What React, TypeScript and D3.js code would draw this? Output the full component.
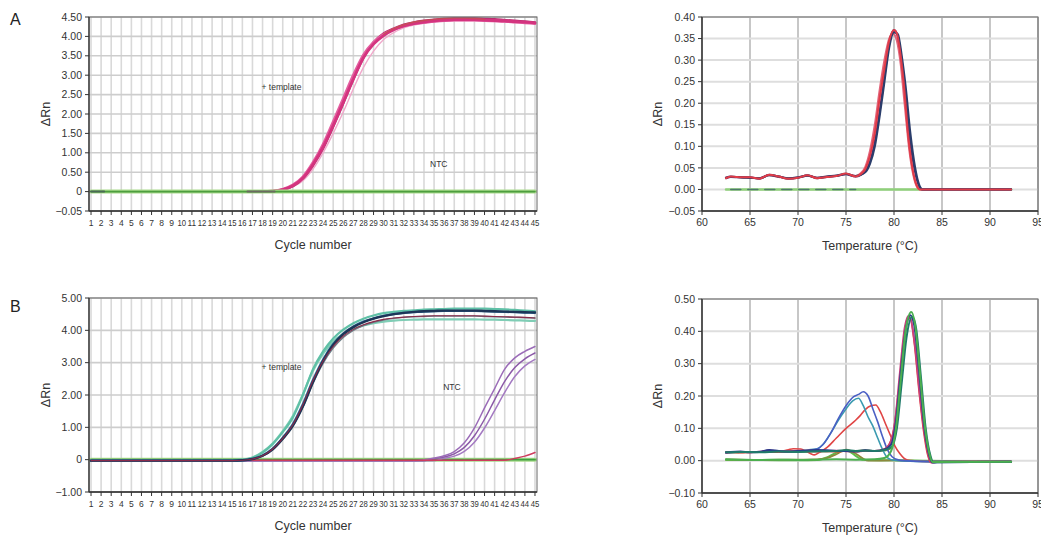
import React from 'react';
import * as d3 from 'd3';

type Pt = [number, number];

// ---------- tick values / labels ----------
const cycleTicks = [1,2,3,4,5,6,7,8,9,10,11,12,13,14,15,16,17,18,19,20,21,22,23,24,25,26,27,28,29,30,31,32,33,34,35,36,37,38,39,40,41,42,43,44,45];
const cycleLabels = cycleTicks.map(String);
const ampAYTicks = [-0.5, 0, 0.5, 1, 1.5, 2, 2.5, 3, 3.5, 4, 4.5];
const ampAYLabels = ['\u22120.05', '0', '0.50', '1.00', '1.50', '2.00', '2.50', '3.00', '3.50', '4.00', '4.50'];
const ampBYTicks = [-1, 0, 1, 2, 3, 4, 5];
const ampBYLabels = ['\u22121.00', '0', '1.00', '2.00', '3.00', '4.00', '5.00'];
const tempTicks = [60, 65, 70, 75, 80, 85, 90, 95];
const tempLabels = ['60', '65', '70', '75', '80', '85', '90', '95'];
const meltAYTicks = [-0.05, 0, 0.05, 0.1, 0.15, 0.2, 0.25, 0.3, 0.35, 0.4];
const meltAYLabels = ['\u22120.05', '0.00', '0.05', '0.10', '0.15', '0.20', '0.25', '0.30', '0.35', '0.40'];
const meltBYTicks = [-0.1, 0, 0.1, 0.2, 0.3, 0.4, 0.5];
const meltBYLabels = ['\u22120.10', '0.00', '0.10', '0.20', '0.30', '0.40', '0.50'];

// ---------- Panel A: amplification ----------
const tplA1: Pt[] = [[1,0],[18,0],[19,0.01],[20,0.05],[21,0.15],[22,0.35],[23,0.7],[24,1.15],[25,1.7],[26,2.3],[27,2.9],[28,3.45],[29,3.8],[30,4.02],[31,4.17],[32,4.27],[33,4.33],[34,4.37],[35,4.4],[36,4.42],[37,4.43],[38,4.43],[39,4.43],[40,4.42],[41,4.41],[42,4.4],[43,4.38],[44,4.37],[45,4.35]];
const tplA2: Pt[] = [[1,0],[18,0],[19,0.012],[20,0.06],[21,0.17],[22,0.38],[23,0.75],[24,1.22],[25,1.8],[26,2.4],[27,3.0],[28,3.52],[29,3.85],[30,4.05],[31,4.18],[32,4.27],[33,4.33],[34,4.36],[35,4.39],[36,4.41],[37,4.42],[38,4.42],[39,4.42],[40,4.41],[41,4.4],[42,4.39],[43,4.37],[44,4.35],[45,4.33]];
const tplA3: Pt[] = [[1,0],[18,0],[19,0.01],[20,0.05],[21,0.14],[22,0.34],[23,0.68],[24,1.12],[25,1.68],[26,2.28],[27,2.9],[28,3.46],[29,3.84],[30,4.07],[31,4.2],[32,4.3],[33,4.36],[34,4.4],[35,4.43],[36,4.45],[37,4.46],[38,4.46],[39,4.46],[40,4.45],[41,4.44],[42,4.42],[43,4.4],[44,4.38],[45,4.36]];
const tplA4: Pt[] = [[1,0],[18,0],[19,0.008],[20,0.04],[21,0.12],[22,0.28],[23,0.58],[24,1.0],[25,1.5],[26,2.05],[27,2.65],[28,3.2],[29,3.62],[30,3.92],[31,4.1],[32,4.22],[33,4.29],[34,4.34],[35,4.37],[36,4.39],[37,4.4],[38,4.4],[39,4.4],[40,4.39],[41,4.38],[42,4.37],[43,4.36],[44,4.35],[45,4.34]];
const tplA5: Pt[] = [[30,4.06],[31,4.2],[32,4.3],[33,4.37],[34,4.41],[35,4.44],[36,4.46],[37,4.47],[38,4.47],[39,4.46],[40,4.44]];
const ntcA: Pt[] = [[1,0],[45,0]];
const ntcADark: Pt[] = [[1,0],[2.3,0]];
const ntcADark2: Pt[] = [[16.5,0],[19.2,0]];

// ---------- Panel B: amplification ----------
const tplBTealHi: Pt[] = [[1,-0.03],[14,-0.03],[15,-0.02],[16,0.0],[17,0.06],[18,0.22],[19,0.48],[20,0.85],[21,1.3],[22,2.0],[23,2.8],[24,3.35],[25,3.75],[26,4.02],[27,4.22],[28,4.36],[29,4.46],[30,4.53],[31,4.57],[32,4.6],[33,4.62],[34,4.64],[35,4.65],[36,4.66],[37,4.67],[38,4.67],[39,4.67],[40,4.67],[41,4.66],[42,4.65],[43,4.63],[44,4.61],[45,4.59]];
const tplBTealLo: Pt[] = [[1,-0.03],[14,-0.03],[15,-0.02],[16,0.0],[17,0.07],[18,0.24],[19,0.5],[20,0.88],[21,1.35],[22,2.02],[23,2.75],[24,3.28],[25,3.65],[26,3.9],[27,4.05],[28,4.15],[29,4.22],[30,4.27],[31,4.3],[32,4.32],[33,4.33],[34,4.34],[35,4.34],[36,4.34],[37,4.34],[38,4.34],[39,4.34],[40,4.33],[41,4.33],[42,4.32],[43,4.31],[44,4.3],[45,4.29]];
const tplBNavy: Pt[] = [[1,-0.03],[15,-0.03],[16,-0.02],[17,0.02],[18,0.12],[19,0.32],[20,0.65],[21,1.05],[22,1.65],[23,2.4],[24,3.05],[25,3.55],[26,3.88],[27,4.1],[28,4.25],[29,4.36],[30,4.44],[31,4.5],[32,4.54],[33,4.57],[34,4.59],[35,4.6],[36,4.61],[37,4.61],[38,4.61],[39,4.61],[40,4.6],[41,4.59],[42,4.58],[43,4.57],[44,4.56],[45,4.55]];
const tplBBlue: Pt[] = [[1,-0.03],[15,-0.03],[16,-0.02],[17,0.025],[18,0.13],[19,0.34],[20,0.68],[21,1.1],[22,1.72],[23,2.47],[24,3.1],[25,3.58],[26,3.9],[27,4.12],[28,4.27],[29,4.37],[30,4.45],[31,4.5],[32,4.54],[33,4.56],[34,4.58],[35,4.59],[36,4.6],[37,4.6],[38,4.6],[39,4.6],[40,4.59],[41,4.58],[42,4.57],[43,4.56],[44,4.55],[45,4.54]];
const tplBMaroon: Pt[] = [[1,-0.03],[15,-0.03],[16,-0.02],[17,0.02],[18,0.12],[19,0.33],[20,0.66],[21,1.08],[22,1.7],[23,2.45],[24,3.05],[25,3.5],[26,3.82],[27,4.03],[28,4.17],[29,4.27],[30,4.34],[31,4.38],[32,4.41],[33,4.43],[34,4.44],[35,4.45],[36,4.45],[37,4.45],[38,4.45],[39,4.45],[40,4.44],[41,4.43],[42,4.42],[43,4.41],[44,4.4],[45,4.38]];
const tplBGray: Pt[] = [[1,-0.03],[15,-0.03],[16,-0.02],[17,0.02],[18,0.11],[19,0.3],[20,0.62],[21,1.02],[22,1.62],[23,2.36],[24,2.98],[25,3.45],[26,3.78],[27,4.0],[28,4.15],[29,4.25],[30,4.32],[31,4.37],[32,4.4],[33,4.42],[34,4.43],[35,4.44],[36,4.44],[37,4.44],[38,4.44],[39,4.44],[40,4.43],[41,4.42],[42,4.41],[43,4.4],[44,4.39],[45,4.38]];
const ntcBPurple1: Pt[] = [[1,-0.03],[33,-0.03],[34,0.0],[35,0.05],[36,0.12],[37,0.25],[38,0.52],[39,0.98],[40,1.6],[41,2.2],[42,2.8],[43,3.15],[44,3.35],[45,3.5]];
const ntcBPurple2: Pt[] = [[1,-0.03],[34,-0.03],[35,0.03],[36,0.08],[37,0.18],[38,0.38],[39,0.74],[40,1.25],[41,1.85],[42,2.42],[43,2.85],[44,3.12],[45,3.3]];
const ntcBPurple3: Pt[] = [[1,-0.03],[35,-0.03],[36,0.04],[37,0.11],[38,0.26],[39,0.54],[40,0.98],[41,1.52],[42,2.08],[43,2.57],[44,2.9],[45,3.1]];
const ntcBRed: Pt[] = [[1,-0.02],[42,-0.02],[43,0.04],[44,0.11],[45,0.22]];
const ntcBGreen: Pt[] = [[1,0],[45,0]];

// ---------- Panel A: melt curves ----------
const meltARed: Pt[] = [[62.5,0.026],[63,0.03],[63.5,0.029],[64,0.028],[65,0.028],[66,0.025],[67,0.034],[68,0.03],[69,0.025],[70,0.027],[71,0.033],[72,0.026],[73,0.029],[74,0.031],[75,0.037],[76,0.03],[76.5,0.035],[77,0.047],[77.5,0.078],[78,0.13],[78.5,0.21],[79,0.28],[79.5,0.345],[80,0.37],[80.3,0.362],[80.6,0.325],[81,0.25],[81.5,0.12],[82,0.04],[82.4,0.008],[82.7,0.0],[92.2,0.0]];
const meltAPink: Pt[] = [[62.5,0.028],[63,0.029],[64,0.029],[65,0.027],[66,0.026],[67,0.033],[68,0.029],[69,0.026],[70,0.028],[71,0.032],[72,0.027],[73,0.03],[74,0.032],[75,0.036],[76,0.031],[76.5,0.037],[77,0.052],[77.5,0.09],[78,0.15],[78.5,0.23],[79,0.3],[79.5,0.35],[79.9,0.362],[80.3,0.345],[80.7,0.29],[81.1,0.2],[81.6,0.09],[82.1,0.025],[82.5,0.003],[82.8,0.0],[92.2,0.0]];
const meltANavy: Pt[] = [[62.5,0.027],[63,0.03],[64,0.028],[65,0.027],[66,0.026],[67,0.033],[68,0.03],[69,0.026],[70,0.028],[71,0.032],[72,0.027],[73,0.03],[74,0.032],[75,0.036],[76,0.031],[77,0.04],[77.5,0.06],[78,0.1],[78.5,0.17],[79,0.25],[79.5,0.33],[80,0.365],[80.4,0.36],[80.8,0.31],[81.2,0.24],[81.7,0.13],[82.2,0.05],[82.6,0.012],[83,0.0],[92.2,0.0]];
const meltAPurple: Pt[] = [[62.5,0.026],[63,0.029],[64,0.028],[65,0.028],[66,0.025],[67,0.034],[68,0.03],[69,0.025],[70,0.027],[71,0.033],[72,0.026],[73,0.029],[74,0.031],[75,0.035],[76,0.03],[77,0.042],[77.5,0.065],[78,0.11],[78.5,0.18],[79,0.26],[79.5,0.34],[80,0.37],[80.4,0.355],[80.8,0.3],[81.2,0.22],[81.7,0.11],[82.2,0.04],[82.6,0.008],[82.9,0.0],[92.2,0.0]];
const meltANtc: Pt[] = [[62.5,0],[92.2,0]];
const meltANtcDark: Pt[] = [[63,0],[76,0]];
const meltANtcDark2: Pt[] = [[83,0],[92,0]];

// ---------- Panel B: melt curves ----------
const meltBMainRed: Pt[] = [[62.5,0.026],[63,0.027],[64,0.025],[65,0.026],[66,0.027],[67,0.031],[68,0.028],[69,0.029],[70,0.03],[71,0.031],[72,0.03],[73,0.029],[74,0.028],[75,0.03],[76,0.028],[77,0.03],[78,0.03],[79,0.036],[79.5,0.05],[80,0.1],[80.5,0.22],[81,0.37],[81.4,0.44],[81.7,0.44],[82.1,0.37],[82.6,0.22],[83.1,0.09],[83.5,0.02],[83.8,-0.005],[84.5,-0.004],[92.2,-0.003]];
const meltBMainPink: Pt[] = [[62.5,0.025],[63,0.026],[64,0.027],[65,0.026],[66,0.028],[67,0.032],[68,0.029],[69,0.028],[70,0.031],[71,0.03],[72,0.029],[73,0.03],[74,0.031],[75,0.029],[76,0.03],[77,0.031],[78,0.03],[79,0.035],[79.6,0.055],[80.1,0.12],[80.6,0.27],[81.1,0.41],[81.5,0.448],[81.8,0.43],[82.2,0.35],[82.7,0.2],[83.2,0.08],[83.6,0.015],[83.9,-0.006],[84.5,-0.004],[92.2,-0.003]];
const meltBMainNavy: Pt[] = [[62.5,0.025],[63,0.027],[64,0.028],[65,0.026],[66,0.027],[67,0.033],[68,0.03],[69,0.028],[70,0.03],[71,0.031],[72,0.033],[73,0.032],[74,0.03],[75,0.03],[76,0.028],[77,0.032],[78,0.03],[79,0.035],[79.7,0.05],[80.2,0.12],[80.7,0.27],[81.2,0.4],[81.7,0.45],[82.1,0.42],[82.6,0.28],[83.1,0.12],[83.6,0.025],[84,-0.006],[84.5,-0.005],[92.2,-0.003]];
const meltBMainGreen: Pt[] = [[62.5,0.004],[64,0.003],[66,0.002],[68,0.003],[70,0.002],[72,0.003],[74,0.004],[76,0.003],[78,0.004],[79,0.008],[79.7,0.03],[80.2,0.1],[80.7,0.25],[81.2,0.4],[81.8,0.46],[82.2,0.42],[82.7,0.27],[83.2,0.11],[83.7,0.02],[84,-0.004],[92.2,-0.003]];
const meltBMainTeal: Pt[] = [[62.5,0.026],[64,0.027],[66,0.026],[68,0.028],[70,0.027],[72,0.029],[74,0.03],[75,0.033],[76,0.03],[77,0.031],[78,0.03],[79,0.033],[79.8,0.045],[80.3,0.1],[80.8,0.24],[81.3,0.38],[81.9,0.445],[82.3,0.41],[82.8,0.26],[83.3,0.1],[83.8,0.015],[84.1,-0.005],[92.2,-0.003]];
const meltBDimerBlue: Pt[] = [[62.5,0.025],[63,0.027],[64,0.026],[65,0.026],[66,0.028],[67,0.032],[68,0.029],[69,0.028],[70,0.03],[71,0.032],[72,0.036],[72.6,0.05],[73.5,0.09],[74.2,0.13],[75,0.17],[75.8,0.198],[76.3,0.205],[76.8,0.213],[77.3,0.2],[77.8,0.16],[78.3,0.12],[78.8,0.075],[79.3,0.035],[79.8,0.012],[80.5,0.002],[81,0.0],[84,-0.003],[92.2,-0.003]];
const meltBDimerTeal: Pt[] = [[62.5,0.027],[63,0.025],[64,0.027],[65,0.026],[66,0.027],[67,0.03],[68,0.029],[69,0.03],[70,0.029],[71,0.033],[72,0.037],[72.6,0.05],[73.5,0.09],[74.2,0.125],[75,0.16],[75.7,0.185],[76.3,0.193],[76.8,0.17],[77.3,0.135],[77.8,0.107],[78.3,0.07],[78.8,0.035],[79.2,0.013],[79.7,0.003],[80.5,0.0],[84,-0.003],[92.2,-0.003]];
const meltBDimerRed: Pt[] = [[62.5,0.025],[64,0.026],[66,0.027],[68,0.028],[69,0.034],[69.5,0.037],[70.3,0.036],[70.8,0.03],[71.3,0.022],[71.7,0.018],[72.2,0.025],[73,0.04],[74,0.07],[75,0.1],[76,0.125],[76.5,0.14],[77,0.158],[77.6,0.17],[78.1,0.172],[78.6,0.15],[79.1,0.115],[79.6,0.08],[80.1,0.045],[80.6,0.022],[81.1,0.006],[81.7,0.0],[84,-0.003],[92.2,-0.003]];
const meltBOlive: Pt[] = [[62.5,0.004],[64,0.003],[66,0.002],[68,0.003],[70,0.003],[72,0.004],[73,0.008],[74,0.02],[75,0.034],[75.5,0.03],[76.2,0.018],[76.8,0.006],[77.3,0.0],[80,0.001],[84,-0.002],[92.2,-0.003]];
const meltBGreenLow: Pt[] = [[62.5,0.002],[66,0.002],[70,0.001],[72,0.002],[73,0.01],[74,0.025],[74.7,0.03],[75.2,0.03],[76,0.015],[76.7,0.003],[80,0.001],[83,0.0],[92.2,-0.003]];
const meltBDarkGreen: Pt[] = [[62.5,0.025],[66,0.026],[70,0.027],[72,0.028],[74,0.029],[76,0.03],[77,0.033],[78,0.03],[79,0.031],[79.8,0.04]];

// ---------- component ----------
interface Series { data: Pt[]; color: string; width: number; opacity?: number; dash?: string }
interface Note { text: string; x: number; y: number }
interface PanelProps {
  left: number; right: number; top: number; bottom: number;
  xDomain: [number, number]; yDomain: [number, number];
  xTicks: number[]; xLabels: string[]; xFont: number; condensed?: boolean;
  yTicks: number[]; yLabels: string[];
  hGrid: number[]; vGrid: number[]; hColor: string; vColor: string; hWidth: number; vWidth: number;
  series: Series[]; notes: Note[];
  xTitle: string; xTitleY: number; yTitleX: number;
}

const FONT = 'Liberation Sans, Arial, Helvetica, sans-serif';
const TXT = '#333';

function Panel(p: PanelProps) {
  const x = d3.scaleLinear().domain(p.xDomain).range([p.left, p.right]);
  const y = d3.scaleLinear().domain(p.yDomain).range([p.bottom, p.top]);
  const line = d3.line<Pt>().x(d => x(d[0])).y(d => y(d[1])).curve(d3.curveMonotoneX);
  const midX = (p.left + p.right) / 2;
  const midY = (p.top + p.bottom) / 2;
  return (
    <g>
      <rect x={p.left} y={p.top} width={p.right - p.left} height={p.bottom - p.top} fill="#fff" />
      {p.vGrid.map((v, i) => (
        <line key={'vg' + i} x1={x(v)} x2={x(v)} y1={p.top} y2={p.bottom} stroke={p.vColor} strokeWidth={p.vWidth} />
      ))}
      {p.hGrid.map((v, i) => (
        <line key={'hg' + i} x1={p.left} x2={p.right} y1={y(v)} y2={y(v)} stroke={p.hColor} strokeWidth={p.hWidth} />
      ))}
      {p.series.map((s, i) => (
        <path key={'s' + i} d={line(s.data) || ''} fill="none" stroke={s.color} strokeWidth={s.width}
          strokeOpacity={s.opacity ?? 1} strokeDasharray={s.dash} strokeLinejoin="round" strokeLinecap="round" />
      ))}
      <rect x={p.left} y={p.top} width={p.right - p.left} height={p.bottom - p.top} fill="none" stroke="#666" strokeWidth={1} />
      <line x1={p.left} x2={p.left} y1={p.top} y2={p.bottom} stroke="#333" strokeWidth={1.3} />
      <line x1={p.left} x2={p.right} y1={p.bottom} y2={p.bottom} stroke="#333" strokeWidth={1.3} />
      {p.yTicks.map((v, i) => (
        <g key={'yt' + i}>
          <line x1={p.left - 4} x2={p.left} y1={y(v)} y2={y(v)} stroke="#333" strokeWidth={1} />
          <text x={p.left - 7} y={y(v)} dy="0.35em" textAnchor="end" fontSize={10.5} fontFamily={FONT} fill={TXT}>{p.yLabels[i]}</text>
        </g>
      ))}
      {p.xTicks.map((v, i) => (
        <g key={'xt' + i}>
          <line x1={x(v)} x2={x(v)} y1={p.bottom} y2={p.bottom + 4} stroke="#333" strokeWidth={1} />
          {p.condensed && p.xLabels[i].length > 1 ? (
            <text x={x(v)} y={p.bottom + 15} textAnchor="middle" fontSize={p.xFont} fontFamily={FONT} fill={TXT}
              textLength={8.6} lengthAdjust="spacingAndGlyphs">{p.xLabels[i]}</text>
          ) : (
            <text x={x(v)} y={p.bottom + 15} textAnchor="middle" fontSize={p.xFont} fontFamily={FONT} fill={TXT}>{p.xLabels[i]}</text>
          )}
        </g>
      ))}
      {p.notes.map((n, i) => (
        <text key={'n' + i} x={x(n.x)} y={y(n.y)} fontSize={8.5} fontFamily={FONT} fill={TXT}>{n.text}</text>
      ))}
      <text x={midX} y={p.xTitleY} textAnchor="middle" fontSize={12.5} fontFamily={FONT} fill={TXT}>{p.xTitle}</text>
      <text transform={`translate(${p.yTitleX},${midY}) rotate(-90)`} textAnchor="middle" dy="0.35em" fontSize={12.5} fontFamily={FONT} fill={TXT}>ΔRn</text>
    </g>
  );
}

export default function App() {
  const ampGrid = { vColor: '#d9d9d9', hColor: '#cdcdcd', vWidth: 1.6, hWidth: 1.6 };
  const meltGrid = { vColor: '#b9b9b9', hColor: '#dedede', vWidth: 1.6, hWidth: 2 };
  return (
    <svg width={1041} height={537} style={{ position: 'absolute', left: 0, top: 0, background: '#fff' }}>
      <text x={10} y={25} fontSize={16} fontFamily={FONT} fill="#222">A</text>
      <text x={10} y={312} fontSize={16} fontFamily={FONT} fill="#222">B</text>

      <Panel left={89} right={537} top={17} bottom={211} xDomain={[0.8, 45.2]} yDomain={[-0.5, 4.5]}
        xTicks={cycleTicks} xLabels={cycleLabels} xFont={8.5} condensed
        yTicks={ampAYTicks} yLabels={ampAYLabels}
        hGrid={ampAYTicks} vGrid={cycleTicks} {...ampGrid}
        series={[
          { data: tplA4, color: '#f0a9cb', width: 1.4 },
          { data: tplA3, color: '#b8306f', width: 2.6 },
          { data: tplA2, color: '#e35fa0', width: 2.8 },
          { data: tplA1, color: '#d4347f', width: 2.8 },
          { data: tplA5, color: '#c55050', width: 1.4, opacity: 0.8 },
          { data: ntcA, color: '#a9da8c', width: 4 },
          { data: ntcA, color: '#4d9e3f', width: 1.6 },
          { data: ntcADark, color: '#4a6a55', width: 2 },
          { data: ntcADark2, color: '#6a6a60', width: 2 },
        ]}
        notes={[{ text: '+ template', x: 17.9, y: 2.62 }, { text: 'NTC', x: 34.6, y: 0.63 }]}
        xTitle="Cycle number" xTitleY={249} yTitleX={46} />

      <Panel left={702} right={1038} top={17} bottom={211} xDomain={[60, 95]} yDomain={[-0.05, 0.4]}
        xTicks={tempTicks} xLabels={tempLabels} xFont={10.5}
        yTicks={meltAYTicks} yLabels={meltAYLabels}
        hGrid={meltAYTicks} vGrid={tempTicks} {...meltGrid}
        series={[
          { data: meltANtc, color: '#8fd07a', width: 2.4 },
          { data: meltANtcDark, color: '#4d7a6a', width: 1.6, dash: '10 7' },
          { data: meltANtcDark2, color: '#6a8a7a', width: 1.4, dash: '14 10' },
          { data: meltAPink, color: '#e2647a', width: 2 },
          { data: meltAPurple, color: '#4a2f6e', width: 2 },
          { data: meltANavy, color: '#2b3d6b', width: 2.2 },
          { data: meltARed, color: '#e03c48', width: 2 },
        ]}
        notes={[]}
        xTitle="Temperature (°C)" xTitleY={250} yTitleX={658} />

      <Panel left={89} right={537} top={298} bottom={492} xDomain={[0.8, 45.2]} yDomain={[-1, 5]}
        xTicks={cycleTicks} xLabels={cycleLabels} xFont={8.5} condensed
        yTicks={ampBYTicks} yLabels={ampBYLabels}
        hGrid={ampBYTicks} vGrid={cycleTicks} {...ampGrid}
        series={[
          { data: ntcBGreen, color: '#a9da8c', width: 4 },
          { data: ntcBGreen, color: '#3f9e3f', width: 1.8 },
          { data: ntcBPurple3, color: '#a47ac2', width: 1.5 },
          { data: ntcBPurple2, color: '#8c5aa8', width: 1.5 },
          { data: ntcBPurple1, color: '#9b6cb8', width: 1.5 },
          { data: ntcBRed, color: '#cf3c5e', width: 1.5 },
          { data: tplBTealLo, color: '#7fcdb5', width: 2.2 },
          { data: tplBTealHi, color: '#5fc0a6', width: 2.2 },
          { data: tplBGray, color: '#6d7f88', width: 1.4 },
          { data: tplBBlue, color: '#2f6f9c', width: 2.2 },
          { data: tplBNavy, color: '#1d3557', width: 2.4 },
          { data: tplBMaroon, color: '#8b2a4a', width: 1.1 },
        ]}
        notes={[{ text: '+ template', x: 17.9, y: 2.77 }, { text: 'NTC', x: 35.9, y: 2.16 }]}
        xTitle="Cycle number" xTitleY={530} yTitleX={46} />

      <Panel left={702} right={1038} top={299} bottom={493} xDomain={[60, 95]} yDomain={[-0.1, 0.5]}
        xTicks={tempTicks} xLabels={tempLabels} xFont={10.5}
        yTicks={meltBYTicks} yLabels={meltBYLabels}
        hGrid={meltBYTicks} vGrid={tempTicks} {...meltGrid}
        series={[
          { data: meltBGreenLow, color: '#5cbf4a', width: 2 },
          { data: meltBOlive, color: '#8c8a3c', width: 1.8 },
          { data: meltBDarkGreen, color: '#5f8f3f', width: 1.6 },
          { data: meltBDimerRed, color: '#e04545', width: 1.6 },
          { data: meltBDimerTeal, color: '#3a9ab0', width: 1.6 },
          { data: meltBDimerBlue, color: '#4a5fc4', width: 1.6 },
          { data: meltBMainRed, color: '#e23b3b', width: 1.8 },
          { data: meltBMainPink, color: '#c8407e', width: 1.8 },
          { data: meltBMainNavy, color: '#2a3a8a', width: 2 },
          { data: meltBMainTeal, color: '#1f7a6a', width: 2 },
          { data: meltBMainGreen, color: '#4caf50', width: 2 },
        ]}
        notes={[]}
        xTitle="Temperature (°C)" xTitleY={532} yTitleX={658} />
    </svg>
  );
}
